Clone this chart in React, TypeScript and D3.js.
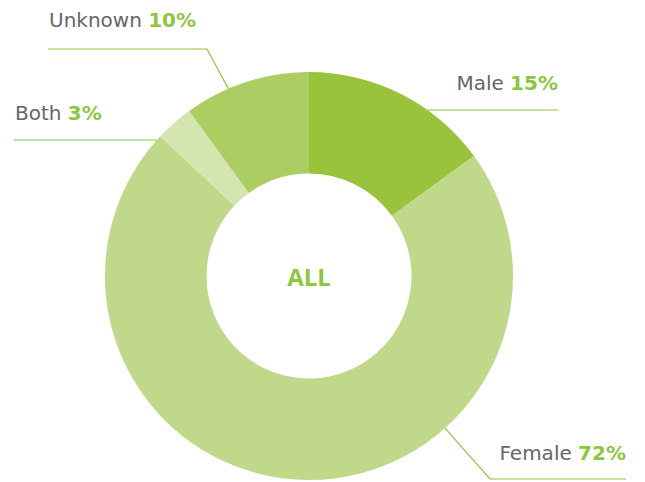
import React from "react";
import * as d3 from "d3";

const categories = ["Male", "Female", "Both", "Unknown"];
const values = [15, 72, 3, 10];
const colors = ["#99c33c", "#bfd88a", "#d4e5b0", "#accd62"];

// label layout: anchor angle on outer rim (deg), elbow point, line end x, text anchor position
const labelLayout = [
  { angle: 35.6, elbow: [428, 110], endX: 558, textX: 558, textY: 90, anchor: "end" },
  { angle: 138.2, elbow: [490, 479], endX: 626, textX: 626, textY: 460, anchor: "end" },
  { angle: 311.6, elbow: [156, 140], endX: 14, textX: 15, textY: 120, anchor: "start" },
  { angle: 336.7, elbow: [207, 49], endX: 48, textX: 49, textY: 27, anchor: "start" },
];

export default function App() {
  const W = 645, H = 482;
  const cx = 309, cy = 276;
  const outerR = 204, innerR = 102.5;
  const pie = d3.pie<number>().sort(null).startAngle(0).endAngle(2 * Math.PI);
  const arcs = pie(values);
  const arc = d3.arc<d3.PieArcDatum<number>>().innerRadius(innerR).outerRadius(outerR);
  const lineColor = "#8dc63f";
  const font = "'DejaVu Sans', sans-serif";

  return (
    <svg width={W} height={H} style={{ position: "absolute", left: 0, top: 0 }}>
      <g transform={`translate(${cx},${cy})`}>
        {arcs.map((a, i) => (
          <path key={categories[i]} d={arc(a) || ""} fill={colors[i]} />
        ))}
      </g>
      {labelLayout.map((l, i) => {
        const t = (l.angle * Math.PI) / 180;
        const sx = cx + outerR * Math.sin(t);
        const sy = cy - outerR * Math.cos(t);
        const pts: [number, number][] = [
          [sx, sy],
          [l.elbow[0], l.elbow[1]],
          [l.endX, l.elbow[1]],
        ];
        const line = d3.line()(pts) || "";
        return (
          <g key={categories[i]}>
            <path d={line} fill="none" stroke={lineColor} strokeWidth={1.2} />
            <text
              x={l.textX}
              y={l.textY}
              textAnchor={l.anchor as any}
              fontFamily={font}
              fontSize={20}
              fill="#666666"
            >
              {categories[i]}{" "}
              <tspan fill="#8dc63f" fontWeight="bold">{values[i]}%</tspan>
            </text>
          </g>
        );
      })}
      <text
        x={cx}
        y={286}
        textAnchor="middle"
        fontFamily="'Open Sans', sans-serif"
        fontWeight="bold"
        fontSize={24}
        fill="#8dc63f"
      >
        ALL
      </text>
    </svg>
  );
}
